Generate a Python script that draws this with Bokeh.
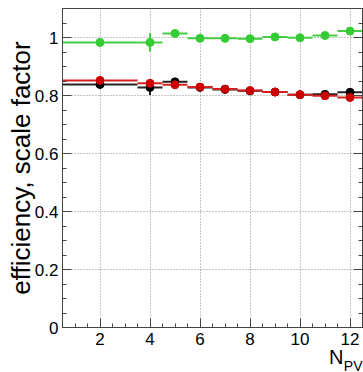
from bokeh.plotting import figure
from bokeh.models import (Range1d, FixedTicker, LinearAxis, Title, ColumnDataSource,
                          CustomJSTickFormatter)
from bokeh.embed import file_html
from bokeh.resources import INLINE

# Bins in number of primary vertices
bin_lo = [0.5, 3.5, 4.5, 5.5, 6.5, 7.5, 8.5, 9.5, 10.5, 11.5]
bin_hi = [3.5, 4.5, 5.5, 6.5, 7.5, 8.5, 9.5, 10.5, 11.5, 12.5]
npv = [2, 4, 5, 6, 7, 8, 9, 10, 11, 12]

# Scale factor (green), data efficiency (black), MC efficiency (red)
sf = [0.983, 0.983, 1.014, 0.997, 0.997, 0.996, 1.002, 0.999, 1.007, 1.022]
sf_err = [0.004, 0.032, 0.004, 0.003, 0.003, 0.003, 0.003, 0.003, 0.003, 0.004]
eff_data = [0.838, 0.828, 0.847, 0.828, 0.821, 0.816, 0.812, 0.803, 0.804, 0.811]
eff_data_err = [0.004, 0.026, 0.004, 0.003, 0.003, 0.003, 0.003, 0.003, 0.003, 0.004]
eff_mc = [0.852, 0.842, 0.837, 0.829, 0.822, 0.817, 0.812, 0.803, 0.799, 0.793]
eff_mc_err = [0.003, 0.004, 0.003, 0.002, 0.002, 0.002, 0.002, 0.002, 0.002, 0.003]

x_major = [2, 4, 6, 8, 10, 12]
y_major = [0, 0.2, 0.4, 0.6, 0.8, 1.0]
y_labels = {0: "0", 0.2: "0.2", 0.4: "0.4", 0.6: "0.6", 0.8: "0.8", 1.0: "1"}

FONT = "Liberation Sans"

p = figure(width=363, height=372, output_backend="svg", toolbar_location=None,
           x_range=Range1d(0.5, 12.5), y_range=Range1d(0, 1.1),
           min_border_left=62, min_border_right=1, min_border_top=8,
           min_border_bottom=45)
p.background_fill_color = "white"
p.border_fill_color = "white"
p.outline_line_color = "#444444"
p.outline_line_width = 1

x_minor = [0.5 + 0.5 * i for i in range(25)]
y_minor = [0.05 * i for i in range(23)]

p.xaxis.ticker = FixedTicker(ticks=x_major, minor_ticks=x_minor)
p.yaxis.ticker = FixedTicker(ticks=y_major, minor_ticks=y_minor)
p.yaxis.major_label_overrides = y_labels

for ax in (p.xaxis[0], p.yaxis[0]):
    ax.axis_line_color = "#444444"
    ax.major_tick_line_color = "#444444"
    ax.minor_tick_line_color = "#444444"
    ax.major_tick_in = 9
    ax.major_tick_out = 0
    ax.minor_tick_in = 4
    ax.minor_tick_out = 0
    ax.major_label_text_font = FONT
    ax.major_label_text_font_size = "17px"
    ax.major_label_text_color = "black"

p.xaxis.major_label_standoff = 5
p.yaxis.major_label_standoff = 4

p.yaxis.axis_label = "efficiency, scale factor"
p.yaxis.axis_label_text_font = FONT
p.yaxis.axis_label_text_font_style = "normal"
p.yaxis.axis_label_text_font_size = "26px"
p.yaxis.axis_label_text_color = "black"
p.yaxis.axis_label_standoff = -4

right = LinearAxis(ticker=FixedTicker(ticks=y_major, minor_ticks=y_minor),
                   formatter=CustomJSTickFormatter(code="return ''"),
                   axis_line_color="#444444",
                   major_tick_line_color="#444444", minor_tick_line_color="#444444",
                   major_tick_in=9, major_tick_out=0, minor_tick_in=4, minor_tick_out=0,
                   major_label_standoff=0)
p.add_layout(right, "right")

p.grid.grid_line_color = "#8a8a8a"
p.grid.grid_line_dash = "1 2"
p.grid.grid_line_width = 1
p.xgrid.ticker = FixedTicker(ticks=x_major)
p.ygrid.ticker = FixedTicker(ticks=y_major)


def series(vals, errs, color, line_color):
    lo = [v - e for v, e in zip(vals, errs)]
    hi = [v + e for v, e in zip(vals, errs)]
    src = ColumnDataSource(dict(x=npv, y=vals, x0=bin_lo, x1=bin_hi, lo=lo, hi=hi))
    p.segment(x0="x0", y0="y", x1="x1", y1="y", source=src,
              line_color=line_color, line_width=2)
    p.segment(x0="x", y0="lo", x1="x", y1="hi", source=src,
              line_color=line_color, line_width=2)
    p.scatter(x="x", y="y", source=src, size=8, fill_color=color,
              line_color=color)


series(sf, sf_err, "#33cc33", "#44cc44")
series(eff_data, eff_data_err, "#000000", "#222222")
series(eff_mc, eff_mc_err, "#cc0000", "#d42020")

# x-axis title N_PV at the right end, below the tick labels
p.add_layout(Title(text="N", align="right", offset=19, standoff=-7,
                   text_font=FONT, text_font_size="20px", text_font_style="normal",
                   text_color="black"), "below")
p.add_layout(Title(text="PV", align="right", offset=0, standoff=-19,
                   text_font=FONT, text_font_size="14px", text_font_style="normal",
                   text_color="black"), "below")

open("out.html", "w").write(file_html(p, INLINE))
